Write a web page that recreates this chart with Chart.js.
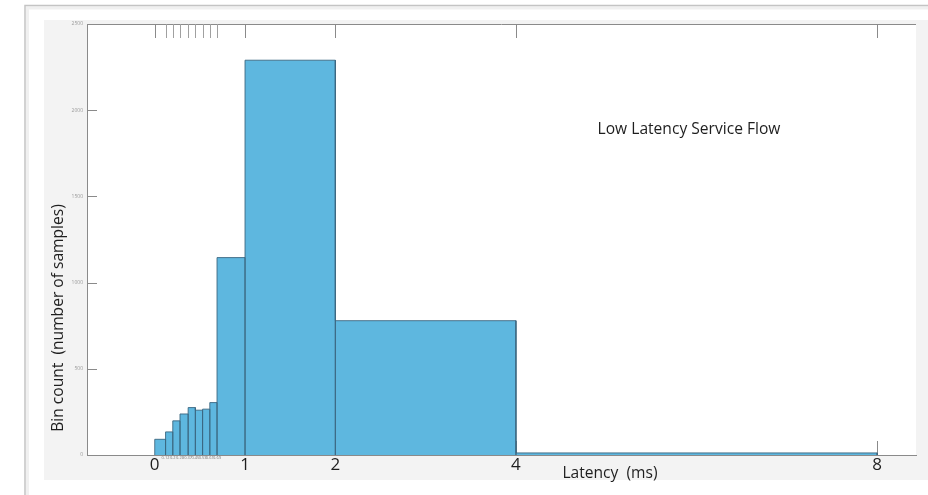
<!DOCTYPE html>
<html>
<head>
<meta charset="utf-8">
<script src="https://cdn.jsdelivr.net/npm/chart.js@4.4.1/dist/chart.umd.min.js"></script>
<style>
  html, body { margin: 0; padding: 0; background: #ffffff; }
  #wrap { position: relative; width: 928px; height: 495px; overflow: hidden; }
  canvas { position: absolute; left: 0; top: 0; }
</style>
</head>
<body>
<div id="wrap"><canvas id="c" width="928" height="495"></canvas></div>
<script>
// Histogram bin edges (ms) and counts per bin
const binEdges = [0, 0.12, 0.2, 0.28, 0.37, 0.45, 0.53, 0.61, 0.69, 1, 2, 4, 8];
const binCounts = [91, 134, 198, 238, 275, 260, 266, 304, 1145, 2290, 779, 12];
const yTicks = [0, 500, 1000, 1500, 2000, 2500];
const xTitle = 'Latency  (ms)';
const yTitle = 'Bin count  (number of samples)';
const note = 'Low Latency Service Flow';

// Outline of the histogram: every bin becomes a closed step on the linear axis
const outline = [];
for (let i = 0; i < binCounts.length; i++) {
  outline.push({ x: binEdges[i], y: 0 });
  outline.push({ x: binEdges[i], y: binCounts[i] });
  outline.push({ x: binEdges[i + 1], y: binCounts[i] });
  outline.push({ x: binEdges[i + 1], y: 0 });
}

const FONT = '"Open Sans", "Noto Sans", sans-serif';
const isMajor = (c) => !c.tick || Number.isInteger(c.tick.value);

const frame = {
  id: 'frame',
  beforeDraw(chart) {
    const { ctx, chartArea: a } = chart;
    ctx.save();
    ctx.fillStyle = '#ffffff';
    ctx.fillRect(0, 0, chart.width, chart.height);
    // slide edge
    ctx.strokeStyle = '#c4c4c4';
    ctx.lineWidth = 1.5;
    ctx.beginPath();
    ctx.moveTo(25, 495); ctx.lineTo(25, 5.5); ctx.lineTo(928, 5.5);
    ctx.stroke();
    ctx.strokeStyle = 'rgba(0,0,0,0.06)';
    ctx.lineWidth = 3;
    ctx.beginPath();
    ctx.moveTo(27.5, 495); ctx.lineTo(27.5, 8); ctx.lineTo(928, 8);
    ctx.stroke();
    // figure panel
    ctx.fillStyle = '#f3f3f3';
    ctx.fillRect(44, 20, 884, 460);
    // plot area
    ctx.fillStyle = '#ffffff';
    ctx.fillRect(a.left, a.top, a.right - a.left, a.bottom - a.top);
    // top border
    ctx.strokeStyle = '#8a8a8a';
    ctx.lineWidth = 1;
    ctx.beginPath();
    ctx.moveTo(a.left, a.top + 0.5); ctx.lineTo(a.right, a.top + 0.5);
    ctx.stroke();
    ctx.restore();
  },
  beforeDatasetsDraw(chart) {
    const { ctx, chartArea: a, scales } = chart;
    ctx.save();
    ctx.lineWidth = 1;
    ctx.strokeStyle = '#8a8a8a';
    // inward ticks on the left axis
    scales.y.ticks.forEach(t => {
      const y = Math.round(scales.y.getPixelForValue(t.value)) + 0.5;
      ctx.beginPath(); ctx.moveTo(a.left, y); ctx.lineTo(a.left + 10, y); ctx.stroke();
    });
    // inward ticks on the bottom axis
    scales.x.ticks.forEach(t => {
      const x = Math.round(scales.x.getPixelForValue(t.value)) + 0.5;
      ctx.beginPath(); ctx.moveTo(x, a.bottom); ctx.lineTo(x, a.bottom - 14); ctx.stroke();
    });
    ctx.restore();
  },
  afterDatasetsDraw(chart) {
    const { ctx, chartArea: a, scales } = chart;
    ctx.save();
    // mirrored ticks along the top border
    ctx.lineWidth = 1;
    scales.x.ticks.forEach(t => {
      const x = Math.round(scales.x.getPixelForValue(t.value)) + 0.5;
      ctx.strokeStyle = Number.isInteger(t.value) ? '#8a8a8a' : '#a0a0a0';
      ctx.beginPath(); ctx.moveTo(x, a.top); ctx.lineTo(x, a.top + 14); ctx.stroke();
    });
    // axis titles and the annotation
    ctx.fillStyle = '#1e1e1e';
    ctx.textAlign = 'center';
    ctx.textBaseline = 'middle';
    ctx.font = '15.6px ' + FONT;
    ctx.fillText(xTitle, 610, 474);
    ctx.save();
    ctx.translate(59, 318);
    ctx.rotate(-Math.PI / 2);
    ctx.fillText(yTitle, 0, 0);
    ctx.restore();
    ctx.font = '15.6px ' + FONT;
    ctx.fillText(note, 689, 130);
    ctx.restore();
  }
};

new Chart(document.getElementById('c'), {
  type: 'line',
  data: {
    datasets: [{
      data: outline,
      borderColor: '#3b6680',
      borderWidth: 0.9,
      backgroundColor: '#5eb7df',
      fill: 'origin',
      pointRadius: 0,
      tension: 0
    }]
  },
  options: {
    responsive: false,
    animation: false,
    events: [],
    layout: { padding: { left: 0, top: 24, right: 12, bottom: 0 } },
    plugins: { legend: { display: false }, tooltip: { enabled: false } },
    scales: {
      x: {
        type: 'linear',
        min: -0.75,
        max: 8.43,
        afterBuildTicks(scale) { scale.ticks = binEdges.map(v => ({ value: v })); },
        afterFit(scale) { scale.height = 40; },
        grid: { display: false, drawTicks: false },
        border: { display: true, color: '#8a8a8a', width: 1 },
        ticks: {
          autoSkip: false,
          maxRotation: 0,
          padding: 0,
          color: (c) => isMajor(c) ? '#1e1e1e' : '#777777',
          font: (c) => isMajor(c)
            ? { size: 17, family: FONT }
            : { size: 4, family: FONT },
          callback: (v) => String(v)
        }
      },
      y: {
        min: 0,
        max: 2500,
        afterBuildTicks(scale) { scale.ticks = yTicks.map(v => ({ value: v })); },
        afterFit(scale) { scale.width = 87; },
        grid: { display: false, drawTicks: false },
        border: { display: true, color: '#8a8a8a', width: 1 },
        ticks: {
          padding: 4,
          color: '#9a9a9a',
          font: { size: 5, family: FONT },
          callback: (v) => String(v)
        }
      }
    }
  },
  plugins: [frame]
});
</script>
</body>
</html>
